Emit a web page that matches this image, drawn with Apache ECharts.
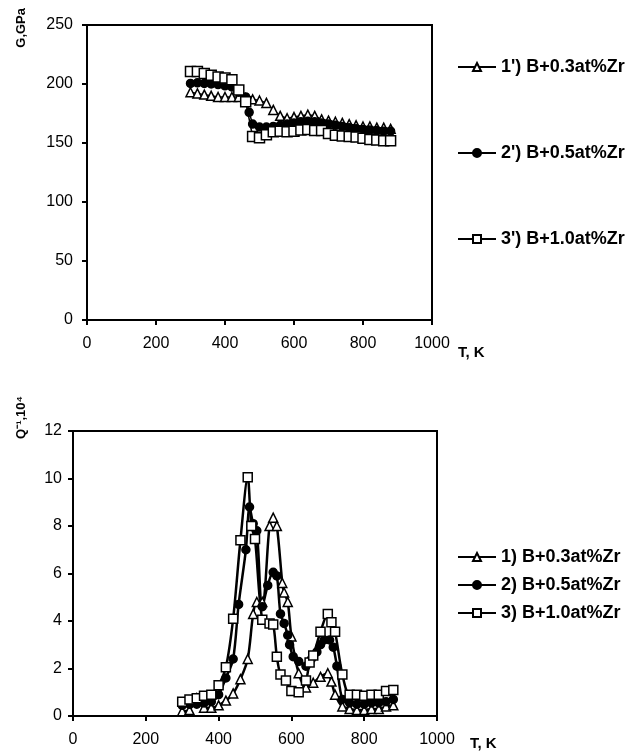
<!DOCTYPE html>
<html>
<head>
<meta charset="utf-8">
<script src="https://cdn.jsdelivr.net/npm/echarts@6/dist/echarts.min.js"></script>
<style>
  html, body { margin: 0; padding: 0; background: #fff; }
  #chart { width: 642px; height: 751px; }
</style>
</head>
<body>
<div id="chart"></div>
<script>
// top panel: shear modulus G, GPa
var gNames = ["1') B+0.3at%Zr", "2') B+0.5at%Zr", "3') B+1.0at%Zr"];
var gTemp = [300, 320, 340, 360, 380, 400, 420, 440, 460, 480, 500, 520, 540, 560, 580,
  600, 620, 640, 660, 680, 700, 720, 740, 760, 780, 800, 820, 840, 860, 880];
var gTri = [193, 192, 191, 190, 189, 189, 189, 189, 188, 187, 186, 184, 178, 173, 171,
  172, 173, 174, 173, 170, 169, 168, 167, 166, 165, 164, 164, 163, 163, 162];
var gDotTemp = [300, 320, 340, 360, 380, 400, 420, 440, 460, 470, 480, 500, 520, 540, 560, 580,
  600, 620, 640, 660, 680, 700, 720, 740, 760, 780, 800, 820, 840, 860, 880];
var gDot = [200.5, 201, 200.5, 200, 199.5, 198.5, 197.5, 193, 189, 176, 166, 163.5, 163.5, 164, 165, 166,
  167, 168, 168.5, 168, 167, 166, 165, 164, 163, 162, 161.5, 161, 160.5, 160, 160];
var gSq = [210.5, 210.5, 209, 207.5, 206, 205, 203.5, 195, 185, 155.5, 154.5, 157, 159.5, 160, 159.5,
  160, 161, 161.5, 160.5, 160.5, 158, 156.5, 156, 155.5, 155, 154, 153, 152.5, 152, 152];

// bottom panel: internal friction Q^-1
var qNames = ['1) B+0.3at%Zr', '2) B+0.5at%Zr', '3) B+1.0at%Zr'];
var qTriTemp = [300, 320, 340, 360, 380, 400, 420, 440, 460, 480, 495, 505, 520, 540, 550, 560, 575, 580,
  590, 600, 620, 640, 660, 680, 700, 710, 720, 740, 760, 780, 800, 820, 840, 860, 880];
var qTri = [0.2, 0.25, 0.75, 0.35, 0.35, 0.45, 0.65, 0.95, 1.55, 2.4, 4.3, 4.8, 4.8, 8.0, 8.35, 8.0, 5.6, 5.2,
  4.8, 3.35, 1.8, 1.2, 1.4, 1.65, 1.8, 1.45, 0.9, 0.4, 0.3, 0.25, 0.25, 0.3, 0.3, 0.4, 0.45];
var qDotTemp = [300, 320, 340, 360, 380, 400, 420, 440, 455, 475, 485, 495, 505, 520, 535, 550, 560, 570,
  580, 590, 595, 605, 620, 640, 655, 670, 680, 690, 705, 715, 725, 740, 760, 780, 800, 820, 840, 860, 880];
var qDot = [0.45, 0.5, 0.5, 0.55, 0.6, 0.9, 1.6, 2.4, 4.7, 7.0, 8.8, 8.1, 7.8, 4.6, 5.5, 6.05, 5.9, 4.3,
  3.9, 3.4, 3.0, 2.5, 2.3, 2.1, 2.4, 2.7, 3.0, 3.2, 3.2, 2.9, 2.1, 0.7, 0.55, 0.5, 0.5, 0.55, 0.55, 0.6, 0.7];
var qSqTemp = [300, 320, 340, 360, 380, 400, 420, 440, 460, 480, 490, 500, 520, 540, 550, 560, 570, 585,
  600, 620, 640, 650, 660, 680, 700, 710, 720, 740, 760, 780, 800, 820, 840, 860, 880];
var qSq = [0.6, 0.7, 0.75, 0.85, 0.9, 1.3, 2.05, 4.1, 7.4, 10.05, 8.0, 7.45, 4.05, 3.9, 3.85, 2.5, 1.75, 1.5,
  1.05, 1.0, 1.5, 2.25, 2.55, 3.55, 4.3, 3.95, 3.55, 1.75, 0.9, 0.9, 0.85, 0.9, 0.9, 1.05, 1.1];

var FONT = 'Liberation Sans';

function pairs(xs, ys) {
  return xs.map(function (x, i) { return [x, ys[i]]; });
}

function xAxis(idx, nameGap, nameShift) {
  return {
    type: 'value', gridIndex: idx, min: 0, max: 1000, interval: 200,
    name: 'T, K', nameLocation: 'end', nameGap: nameGap,
    nameTextStyle: { fontFamily: FONT, fontSize: 15, fontWeight: 'bold', color: '#000',
      align: 'left', verticalAlign: 'top', padding: [nameShift, 0, 0, 0] },
    axisLine: { lineStyle: { color: '#000', width: 2 } },
    axisTick: { show: true, inside: false, length: 5, lineStyle: { color: '#000', width: 2 } },
    axisLabel: { fontFamily: FONT, fontSize: 16, color: '#000', margin: 16,
      formatter: function (v) { return String(v); } },
    splitLine: { show: false }
  };
}

function yAxis(idx, max, interval, margin) {
  return {
    type: 'value', gridIndex: idx, min: 0, max: max, interval: interval,
    axisLine: { show: true, lineStyle: { color: '#000', width: 2 } },
    axisTick: { show: true, inside: false, length: 5, lineStyle: { color: '#000', width: 2 } },
    axisLabel: { fontFamily: FONT, fontSize: 16, color: '#000', margin: margin },
    splitLine: { show: false }
  };
}

function line(name, idx, data, symbol, filled, size, width, smooth) {
  return {
    name: name, type: 'line', xAxisIndex: idx, yAxisIndex: idx,
    data: data, symbol: symbol, symbolSize: size, smooth: smooth,
    showAllSymbol: true,
    lineStyle: { color: '#000', width: width },
    itemStyle: { color: filled ? '#000' : '#fff', borderColor: '#000', borderWidth: 1.5 },
    emphasis: { disabled: true },
    animation: false
  };
}

var legendText = { fontFamily: FONT, fontSize: 18, fontWeight: 'bold', color: '#000' };

var chart = echarts.init(document.getElementById('chart'));
chart.setOption({
  backgroundColor: '#fff',
  animation: false,
  grid: [
    { left: 87, top: 25, width: 345, height: 295, show: true, borderColor: '#000', borderWidth: 2 },
    { left: 73, top: 431, width: 364, height: 286, show: true, borderColor: '#000', borderWidth: 2 }
  ],
  xAxis: [xAxis(0, 26, 25), xAxis(1, 33, 20)],
  yAxis: [yAxis(0, 250, 50, 14), yAxis(1, 12, 2, 11)],
  legend: [
    {
      data: gNames, orient: 'vertical', left: 452, top: 53, itemGap: 68,
      itemWidth: 38, itemHeight: 10,
      textStyle: legendText
    },
    {
      data: qNames, orient: 'vertical', left: 452, top: 543, itemGap: 10,
      itemWidth: 38, itemHeight: 10,
      textStyle: legendText
    }
  ],
  graphic: [
    { type: 'text', left: 15, top: 8, rotation: Math.PI / 2,
      style: { text: 'G,GPa', font: 'bold 13px ' + FONT, fill: '#000' } },
    { type: 'text', left: 15, top: 396, rotation: Math.PI / 2,
      style: { text: 'Q\u207B\u00B9,10\u2074', font: 'bold 13px ' + FONT, fill: '#000' } }
  ],
  series: [
    line(gNames[0], 0, pairs(gTemp, gTri), 'triangle', false, 9, 1.5, false),
    line(gNames[1], 0, pairs(gDotTemp, gDot), 'circle', true, 8, 1.5, false),
    line(gNames[2], 0, pairs(gTemp, gSq), 'rect', false, 10, 1.5, false),
    line(qNames[0], 1, pairs(qTriTemp, qTri), 'triangle', false, 9, 2.5, 0.3),
    line(qNames[1], 1, pairs(qDotTemp, qDot), 'circle', true, 8, 2.5, 0.3),
    line(qNames[2], 1, pairs(qSqTemp, qSq), 'rect', false, 9, 2.5, 0.3)
  ]
});
</script>
</body>
</html>
